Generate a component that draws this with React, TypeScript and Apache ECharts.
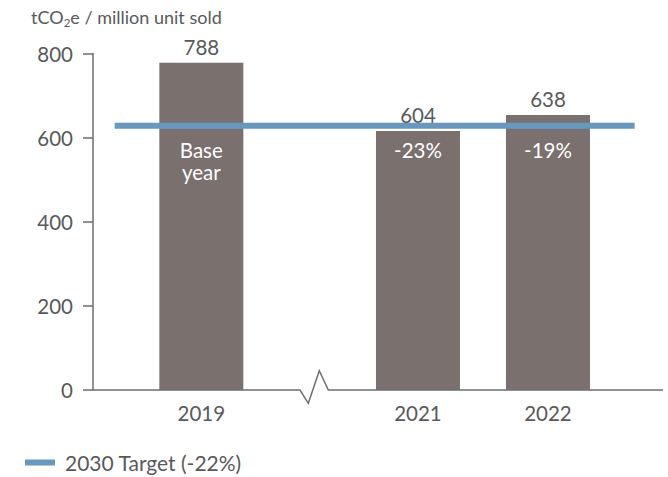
import React, { useEffect, useRef } from 'react';
import * as echarts from 'echarts';

// ---- data ----
const years = ['2019', '2021', '2022'];
const barHeights = [778, 616, 654];
const valueLabels = ['788', '604', '638'];
const changeLabels = ['Base\nyear', '-23%', '-19%'];
const targetName = '2030 Target (-22%)';
const targetValue = 628;
const yTicks = [0, 200, 400, 600, 800];

// ---- layout (category slots on the broken axis) ----
const slotCount = 13;
const yearSlots = [2, 7, 10];
const targetSlots = [0, 12];

const FONT = 'Lato';
const TEXT = '#58595b';
const AXIS = '#6d6e71';
const BAR = '#7a706e';
const BLUE = '#6699c2';
const FS = 20.5;

export default function App() {
  const ref = useRef<HTMLDivElement>(null);
  useEffect(() => {
    document.body.style.margin = '0';
    const chart = echarts.init(ref.current!, null, { renderer: 'svg' });

    const slotKeys: string[] = [];
    for (let i = 0; i < slotCount; i++) {
      const yi = yearSlots.indexOf(i);
      slotKeys.push(yi >= 0 ? years[yi] : '_' + i);
    }
    const barData = slotKeys.map((_, i) => {
      const yi = yearSlots.indexOf(i);
      return yi >= 0 ? barHeights[yi] : null;
    });
    const lineData = slotKeys.map((_, i) => {
      const yi = yearSlots.indexOf(i);
      if (yi >= 0) {
        return {
          value: targetValue,
          label: { show: true, formatter: changeLabels[yi] },
        };
      }
      return targetSlots.indexOf(i) >= 0 ? targetValue : null;
    });

    const slotW = 43.33;
    chart.setOption({
      animation: false,
      textStyle: { fontFamily: FONT },
      title: {
        text: '{a|tCO}{b|2}{a|e / million unit sold}',
        left: 31,
        top: 6,
        padding: 0,
        textStyle: {
          fontWeight: 'normal',
          rich: {
            a: { fontSize: 18, color: TEXT, fontFamily: FONT, fontWeight: 'normal', lineHeight: 22 },
            b: { fontSize: 11.5, color: TEXT, fontFamily: FONT, fontWeight: 'normal', lineHeight: 22, padding: [10, 0, 0, 0] },
          },
        },
      },
      legend: {
        data: [targetName],
        left: 25,
        top: 452,
        padding: 0,
        icon: 'rect',
        itemWidth: 30,
        itemHeight: 6,
        textStyle: { fontSize: 21, color: TEXT, fontFamily: FONT, padding: [0, 0, 0, 5] },
      },
      grid: { left: 93, top: 53.5, width: slotCount * slotW, height: 336.5 },
      xAxis: {
        type: 'category',
        data: slotKeys,
        axisLine: { show: false },
        axisTick: { show: false },
        axisLabel: {
          interval: 0,
          margin: 12,
          fontSize: FS,
          color: TEXT,
          fontFamily: FONT,
          formatter: (v: string) => (v.charAt(0) === '_' ? '' : v),
        },
      },
      yAxis: {
        type: 'value',
        min: yTicks[0],
        max: yTicks[yTicks.length - 1],
        interval: yTicks[1] - yTicks[0],
        axisLine: { show: true, lineStyle: { color: AXIS, width: 1.5 } },
        axisTick: { show: true, inside: false, length: 10, lineStyle: { color: AXIS, width: 1.5 } },
        splitLine: { show: false },
        axisLabel: { fontSize: FS, color: TEXT, fontFamily: FONT, margin: 20 },
      },
      graphic: [
        {
          type: 'polyline',
          silent: true,
          shape: {
            points: [
              [93, 390],
              [300, 390],
              [308.3, 403.3],
              [319.3, 370.7],
              [328.3, 390],
              [663, 390],
            ],
          },
          style: { stroke: AXIS, lineWidth: 1.5, fill: null },
          z: 10,
        },
      ],
      series: [
        {
          type: 'bar',
          name: 'Intensity',
          data: barData,
          barWidth: 84,
          itemStyle: { color: BAR },
          label: {
            show: true,
            position: 'top',
            distance: 5,
            fontSize: FS,
            lineHeight: 22,
            color: TEXT,
            fontFamily: FONT,
            formatter: (p: any) => valueLabels[yearSlots.indexOf(p.dataIndex)] ?? '',
          },
          z: 2,
        },
        {
          type: 'line',
          name: targetName,
          data: lineData,
          connectNulls: true,
          symbol: 'circle',
          symbolSize: 0,
          showSymbol: true,
          lineStyle: { color: BLUE, width: 6 },
          itemStyle: { color: BLUE },
          label: {
            show: false,
            position: 'bottom',
            distance: 13,
            fontSize: FS,
            lineHeight: 22,
            color: '#ffffff',
            fontFamily: FONT,
          },
          z: 5,
        },
      ],
    });
    return () => chart.dispose();
  }, []);
  return <div ref={ref} style={{ width: 668, height: 477 }} />;
}
